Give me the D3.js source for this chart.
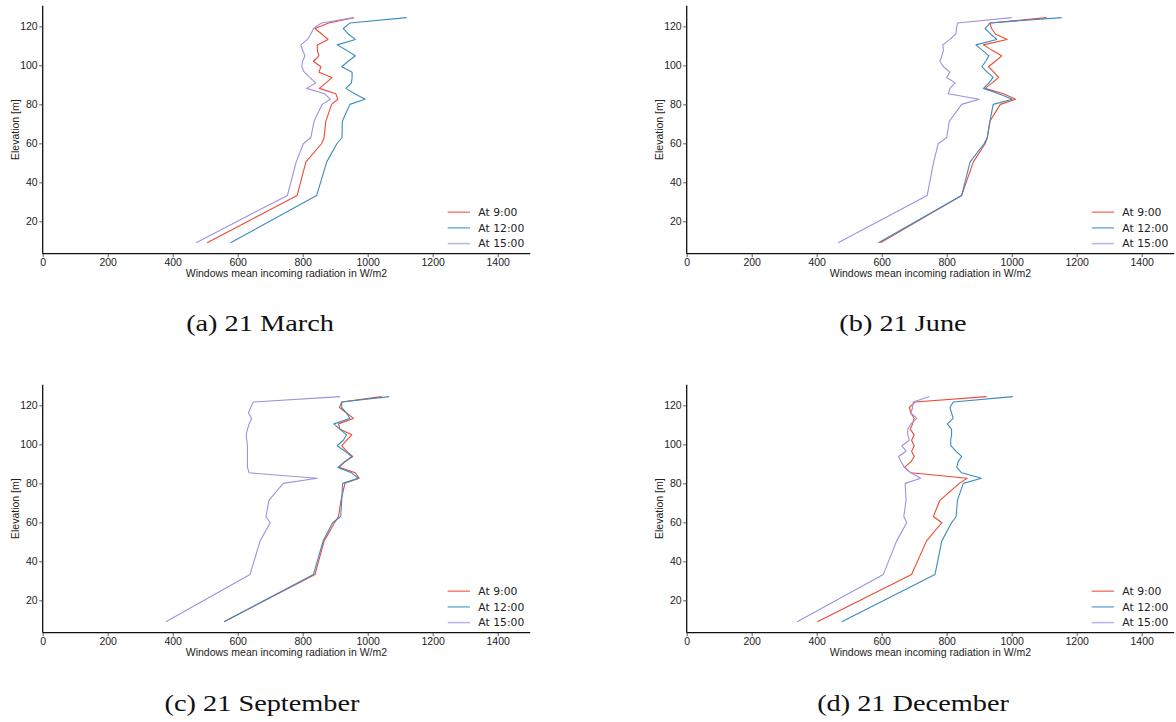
<!DOCTYPE html>
<html>
<head>
<meta charset="utf-8">
<script src="https://cdn.jsdelivr.net/npm/d3@7"></script>
<style>
  html, body { margin: 0; padding: 0; background: #fff; }
  svg { display: block; }
</style>
</head>
<body>
<svg id="chart" width="1176" height="722"></svg>
<script>
// ---- data ----
const elevation = [9, 33.3, 50.5, 59.8, 63, 71.3, 80, 82.6, 85.4, 88.2, 91, 93.8, 96.5, 99.3, 102.1, 104.9, 107.7, 110.5, 113.3, 116.1, 118.9, 121.7, 124.5];

const march9  = [506, 783, 810, 858, 866, 871, 889, 908, 902, 851, 872, 890, 850, 856, 833, 850, 845, 845, 878, 858, 838, 880, 958];
const march12 = [578, 843, 874, 905, 921, 922, 945, 992, 960, 933, 950, 952, 952, 920, 940, 962, 935, 906, 962, 940, 925, 945, 1120];
const march15 = [472, 753, 780, 802, 825, 835, 860, 885, 868, 812, 840, 822, 805, 797, 800, 807, 800, 794, 815, 825, 833, 858, 958];

const june9  = [596, 846, 882, 918, 925, 933, 965, 1012, 975, 918, 940, 960, 945, 928, 950, 969, 940, 913, 986, 950, 938, 933, 1108];
const june12 = [590, 846, 872, 915, 925, 933, 943, 1002, 960, 913, 930, 943, 925, 908, 920, 930, 910, 890, 954, 935, 918, 933, 1154];
const june15 = [466, 740, 760, 774, 800, 808, 846, 900, 805, 810, 826, 800, 810, 790, 779, 785, 790, 788, 810, 828, 830, 833, 1000];

const sept9  = [558, 838, 866, 898, 910, 918, 930, 974, 962, 912, 930, 954, 935, 920, 935, 951, 915, 910, 956, 935, 913, 920, 1043];
const sept12 = [558, 833, 863, 892, 917, 920, 923, 971, 950, 908, 928, 951, 930, 906, 925, 935, 915, 896, 945, 935, 920, 920, 1066];
const sept15 = [379, 638, 669, 700, 687, 696, 740, 845, 635, 630, 630, 630, 630, 630, 628, 626, 630, 635, 643, 633, 640, 648, 915];

const dec9  = [402, 692, 738, 785, 759, 779, 839, 863, 690, 670, 690, 700, 692, 700, 692, 700, 688, 695, 700, 690, 685, 702, 923];
const dec12 = [477, 764, 785, 815, 829, 833, 851, 907, 846, 831, 835, 846, 828, 813, 812, 815, 815, 802, 820, 815, 810, 820, 1003];
const dec15 = [340, 605, 646, 677, 668, 675, 672, 720, 690, 670, 660, 652, 675, 662, 685, 680, 680, 690, 708, 690, 695, 697, 747];

const seriesNames = ["At 9:00", "At 12:00", "At 15:00"];
const seriesColors = ["#ee4a32", "#3a8cc4", "#9f90e2"];
const xTicks = [0, 200, 400, 600, 800, 1000, 1200, 1400];
const yTicks = [20, 40, 60, 80, 100, 120];
const captions = ["(a) 21 March", "(b) 21 June", "(c) 21 September", "(d) 21 December"];
const xLabel = "Windows mean incoming radiation in W/m2";
const yLabel = "Elevation [m]";

const panels = [
  { data: [march9, march12, march15], x0: 42.7, y0: 253.7, cap: captions[0], capX: 260, capY: 331 },
  { data: [june9, june12, june15],    x0: 686.7, y0: 253.7, cap: captions[1], capX: 903, capY: 331 },
  { data: [sept9, sept12, sept15],    x0: 42.7, y0: 632.7, cap: captions[2], capX: 262, capY: 711 },
  { data: [dec9, dec12, dec15],       x0: 686.7, y0: 632.7, cap: captions[3], capX: 913, capY: 711 }
];

// ---- drawing ----
const svg = d3.select("#chart");
const plotW = 487.5, plotH = 248.0;
const sansFont = "'Liberation Sans', Arial, sans-serif";

panels.forEach(p => {
  const g = svg.append("g").attr("transform", `translate(${p.x0},${p.y0 - plotH})`);
  const x = d3.scaleLinear().domain([0, 1500]).range([0, plotW]);
  const y = d3.scaleLinear().domain([3.4, 130.6]).range([plotH, 0]);

  const line = d3.line().x(d => x(d[0])).y(d => y(d[1]));

  p.data.forEach((vals, i) => {
    const pts = vals.map((v, k) => [v, elevation[k]]);
    g.append("path")
      .attr("d", line(pts))
      .attr("fill", "none")
      .attr("stroke", seriesColors[i])
      .attr("stroke-width", 1.1)
      .attr("stroke-linejoin", "round");
  });

  // axes
  const xAxis = d3.axisBottom(x).tickValues(xTicks).tickSize(3.5).tickPadding(1.5).tickFormat(d3.format("d"));
  const yAxis = d3.axisLeft(y).tickValues(yTicks).tickSize(3.5).tickPadding(1.5).tickFormat(d3.format("d"));

  const gx = g.append("g").attr("transform", `translate(0,${plotH})`).call(xAxis);
  const gy = g.append("g").call(yAxis);
  [gx, gy].forEach(a => {
    a.select(".domain").attr("stroke", "#111").attr("stroke-width", 1.3);
    a.selectAll(".tick line").attr("stroke", "#333").attr("stroke-width", 0.8);
    a.selectAll(".tick text").attr("fill", "#222").style("font-family", sansFont).style("font-size", "10.5px");
  });
  gx.select(".domain").attr("d", `M0,0H${plotW}`);
  gy.select(".domain").attr("d", `M0,${plotH}V0`);

  // axis labels
  g.append("text")
    .attr("x", plotW / 2).attr("y", plotH + 23.3)
    .attr("text-anchor", "middle")
    .attr("fill", "#222")
    .style("font-family", sansFont).style("font-size", "10.5px")
    .text(xLabel);
  g.append("text")
    .attr("transform", `translate(${-24},${plotH / 2}) rotate(-90)`)
    .attr("text-anchor", "middle")
    .attr("fill", "#222")
    .style("font-family", sansFont).style("font-size", "10.5px")
    .text(yLabel);

  // legend
  const lg = g.append("g").attr("transform", `translate(0,${plotH})`);
  seriesNames.forEach((name, i) => {
    const ly = -41.5 + i * 15.7;
    lg.append("line")
      .attr("x1", 405).attr("x2", 427.3).attr("y1", ly).attr("y2", ly)
      .attr("stroke", seriesColors[i]).attr("stroke-width", 1.5).attr("stroke-opacity", 0.7);
    lg.append("text")
      .attr("x", 435.6).attr("y", ly + 3.8)
      .attr("fill", "#222")
      .style("font-family", "'DejaVu Sans', sans-serif").style("font-size", "10.8px")
      .text(name);
  });

  // caption
  svg.append("text")
    .attr("transform", `translate(${p.capX},${p.capY}) scale(1.18,1)`)
    .attr("text-anchor", "middle")
    .attr("fill", "#111")
    .style("font-family", "'Liberation Serif', 'Times New Roman', serif")
    .style("font-size", "24px")
    .text(p.cap);
});
</script>
</body>
</html>
